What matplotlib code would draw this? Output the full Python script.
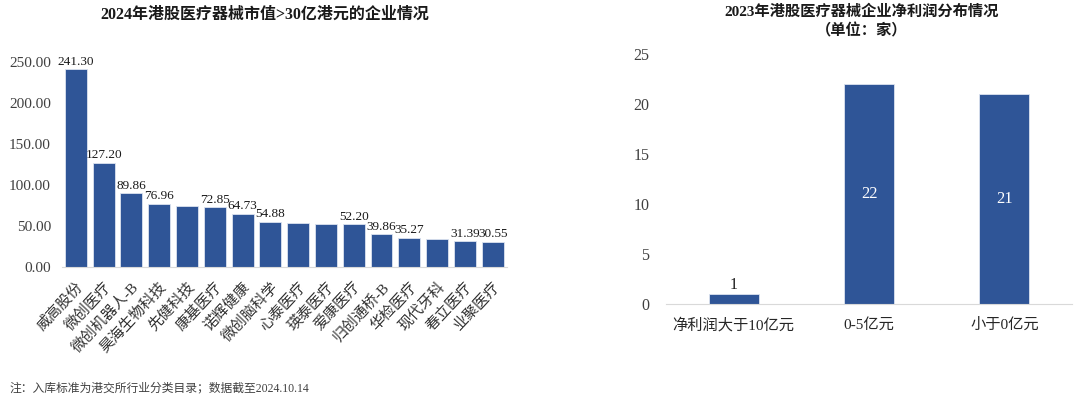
import matplotlib
matplotlib.use("Agg")
import matplotlib.pyplot as plt

plt.rcParams['font.family'] = ['Liberation Serif', 'Noto Sans CJK SC', 'DejaVu Sans']

# ---- Left chart data ----
companies = ["威高股份", "微创医疗", "微创机器人-B", "昊海生物科技", "先健科技", "康基医疗",
             "诺辉健康", "微创脑科学", "心泰医疗", "瑛泰医疗", "爱康医疗", "归创通桥-B",
             "华检医疗", "现代牙科", "春立医疗", "业聚医疗"]
market_cap = [241.30, 127.20, 89.86, 76.96, 74.2, 72.85, 64.73, 54.88, 53.5, 52.6,
              52.20, 39.86, 35.27, 34.5, 31.39, 30.55]
cap_labels = ["241.30", "127.20", "89.86", "76.96", "", "72.85", "64.73", "54.88", "", "",
              "52.20", "39.86", "35.27", "", "31.39", "30.55"]
left_yticks = [0, 50, 100, 150, 200, 250]

# ---- Right chart data ----
profit_cats = ["净利润大于10亿元", "0-5亿元", "小于0亿元"]
profit_counts = [1, 22, 21]
right_yticks = [0, 5, 10, 15, 20, 25]

BAR = "#2F5597"
GRID = "#D9D9D9"
TXT = "#404040"

fig = plt.figure(figsize=(10.8, 3.97), dpi=100)

# Left axes
ax1 = fig.add_axes([0.0574, 0.3275, 0.4116, 0.5163])
x1 = range(len(companies))
ax1.bar(x1, market_cap, width=0.79, color=BAR, edgecolor="#DCE3F0", linewidth=0.6)
ax1.set_xlim(-0.5, len(companies) - 0.5)
ax1.set_ylim(0, 250)
ax1.set_yticks(left_yticks)
ax1.set_yticklabels([f"{v:.2f}" for v in left_yticks], fontsize=11, color=TXT)
ax1.set_xticks(list(x1))
ax1.set_xticklabels(companies, rotation=47, ha="right", rotation_mode="anchor",
                    fontsize=10.8, fontweight="light", color="#333333")
for s in ["top", "right", "left"]:
    ax1.spines[s].set_visible(False)
ax1.spines["bottom"].set_color(GRID)
ax1.tick_params(axis="both", length=0)
ax1.tick_params(axis="y", pad=8)
ax1.tick_params(axis="x", pad=9)
for xi, v, lab in zip(x1, market_cap, cap_labels):
    if lab:
        ax1.text(xi, v + 2, lab, ha="center", va="bottom", fontsize=9.5, color="#1a1a1a", clip_on=False)
fig.text(0.245, 0.962, "2024年港股医疗器械市值>30亿港元的企业情况", ha="center", va="center",
         fontsize=11.5, fontweight="bold", color="#1a1a1a")

# Right axes
ax2 = fig.add_axes([0.6167, 0.2343, 0.3759, 0.6297])
x2 = range(len(profit_cats))
ax2.bar(x2, profit_counts, width=0.37, color=BAR, edgecolor="#DCE3F0", linewidth=0.6)
ax2.set_xlim(-0.5, len(profit_cats) - 0.5)
ax2.set_ylim(0, 25)
ax2.set_yticks(right_yticks)
ax2.set_yticklabels([str(v) for v in right_yticks], fontsize=11.5, color=TXT)
ax2.set_xticks(list(x2))
ax2.set_xticklabels(profit_cats, fontsize=11, color="#262626")
for s in ["top", "right", "left"]:
    ax2.spines[s].set_visible(False)
ax2.spines["bottom"].set_color(GRID)
ax2.tick_params(axis="both", length=0)
ax2.tick_params(axis="y", pad=12)
ax2.tick_params(axis="x", pad=10)
for xi, v in zip(x2, profit_counts):
    if v < 5:
        ax2.text(xi, v + 0.1, str(v), ha="center", va="bottom", fontsize=11.5, color="#1a1a1a")
    else:
        ax2.text(xi, v / 2, str(v), ha="center", va="center", fontsize=12, color="white")
fig.text(0.798, 0.972, "2023年港股医疗器械企业净利润分布情况", ha="center", va="center",
         fontsize=11, fontweight="bold", color="#1a1a1a")
fig.text(0.798, 0.922, "（单位：家）", ha="center", va="center",
         fontsize=11, fontweight="bold", color="#1a1a1a")

fig.text(0.009, 0.022, "注：入库标准为港交所行业分类目录；数据截至2024.10.14", ha="left", va="center",
         fontsize=8.5, color=TXT)

fig.savefig("out.png", dpi=100)
